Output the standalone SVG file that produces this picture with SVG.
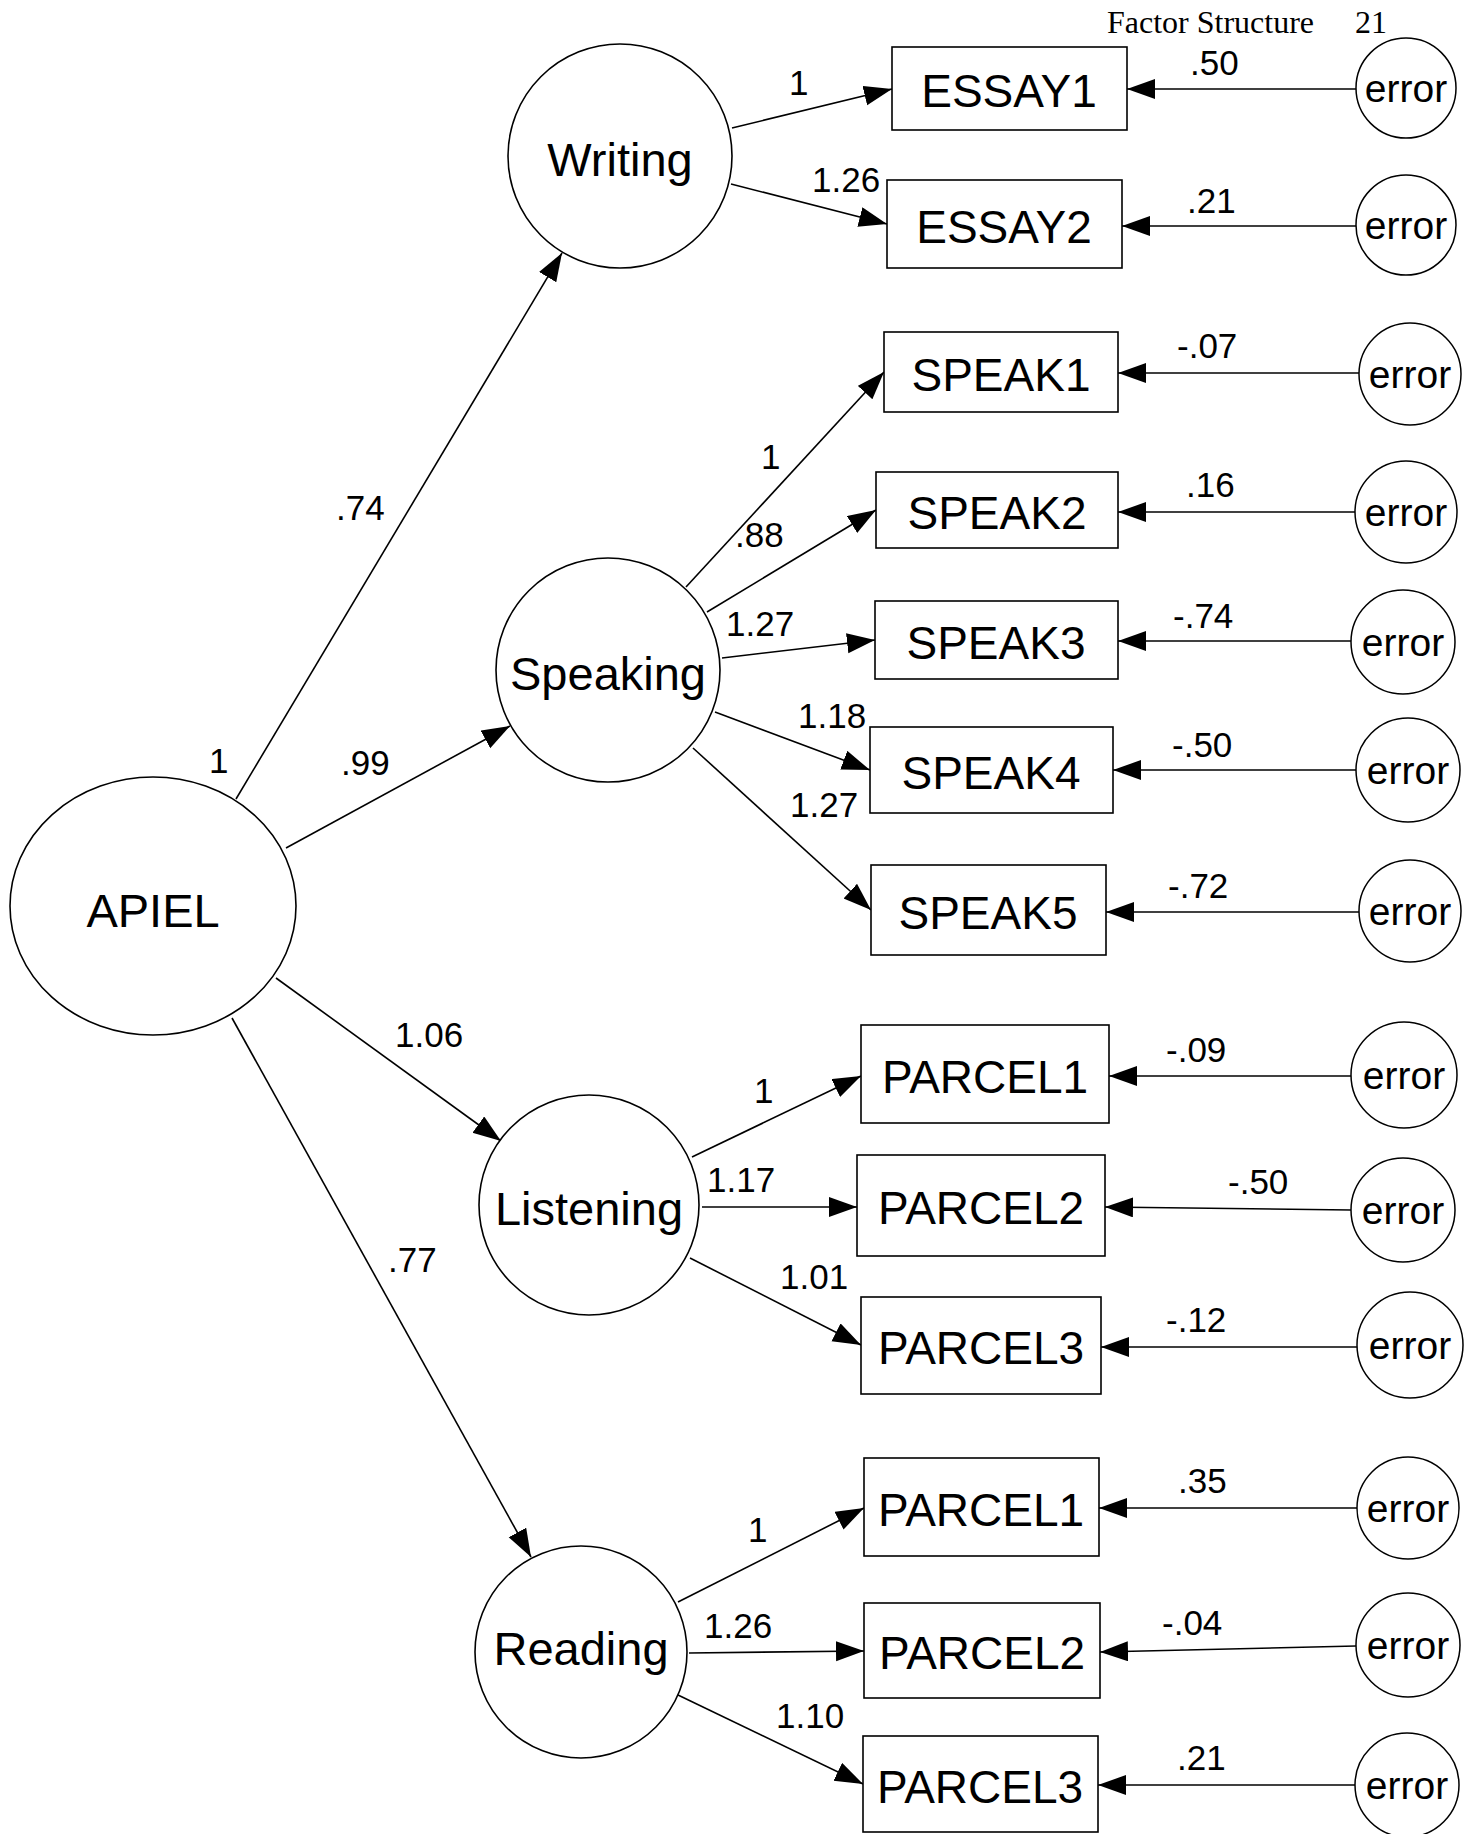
<svg xmlns="http://www.w3.org/2000/svg" width="1472" height="1834" viewBox="0 0 1472 1834">
<style>
.bg{fill:#ffffff}
.lat{fill:#ffffff;stroke:#000;stroke-width:1.6}
.obs{fill:#ffffff;stroke:#000;stroke-width:1.6}
.err{fill:#ffffff;stroke:#000;stroke-width:1.5}
.lbl{font-family:"Liberation Sans",Arial,sans-serif;font-size:47px;fill:#000;text-anchor:middle}
.box{font-family:"Liberation Sans",Arial,sans-serif;font-size:46px;fill:#000;text-anchor:middle}
.etx{font-family:"Liberation Sans",Arial,sans-serif;font-size:39px;fill:#000;text-anchor:middle}
.num{font-family:"Liberation Sans",Arial,sans-serif;font-size:35px;fill:#000}
.title{font-family:"Liberation Serif","Times New Roman",serif;font-size:32px;fill:#000}
.c{fill:none;stroke:#000;stroke-width:1.6;marker-end:url(#ah)}
</style>
<defs>
<marker id="ah" markerUnits="userSpaceOnUse" markerWidth="30" markerHeight="22" refX="28" refY="10" orient="auto">
<path d="M0,0 L28,10 L0,20 Z" fill="#000"/>
</marker>
</defs>
<rect class="bg" x="0" y="0" width="1472" height="1834"/>
<g id="header">
<text class="title" x="1107" y="33">Factor Structure</text>
<text class="title" x="1355" y="33">21</text>
</g>
<g id="connectors">
<line class="c" x1="236" y1="799" x2="562" y2="253"/>
<line class="c" x1="286" y1="848" x2="510" y2="726"/>
<line class="c" x1="276" y1="978" x2="501" y2="1141"/>
<line class="c" x1="232" y1="1018" x2="531" y2="1557"/>
<line class="c" x1="732" y1="128" x2="892" y2="89"/>
<line class="c" x1="731" y1="184" x2="887" y2="224"/>
<line class="c" x1="686" y1="587" x2="884" y2="372"/>
<line class="c" x1="707" y1="612" x2="876" y2="510"/>
<line class="c" x1="722" y1="658" x2="875" y2="640"/>
<line class="c" x1="715" y1="712" x2="870" y2="770"/>
<line class="c" x1="693" y1="748" x2="871" y2="910"/>
<line class="c" x1="692" y1="1157" x2="861" y2="1076"/>
<line class="c" x1="702" y1="1207" x2="857" y2="1207"/>
<line class="c" x1="690" y1="1258" x2="861" y2="1345"/>
<line class="c" x1="678" y1="1602" x2="864" y2="1508"/>
<line class="c" x1="689" y1="1653" x2="864" y2="1651"/>
<line class="c" x1="678" y1="1695" x2="863" y2="1784"/>
<line class="c" x1="1356" y1="89" x2="1127" y2="89"/>
<line class="c" x1="1356" y1="226" x2="1122" y2="226"/>
<line class="c" x1="1359" y1="373" x2="1118" y2="373"/>
<line class="c" x1="1355" y1="512" x2="1118" y2="512"/>
<line class="c" x1="1351" y1="641" x2="1118" y2="641"/>
<line class="c" x1="1356" y1="770" x2="1113" y2="770"/>
<line class="c" x1="1359" y1="912" x2="1106" y2="912"/>
<line class="c" x1="1351" y1="1076" x2="1109" y2="1076"/>
<line class="c" x1="1351" y1="1210" x2="1105" y2="1207"/>
<line class="c" x1="1357" y1="1347" x2="1101" y2="1347"/>
<line class="c" x1="1357" y1="1508" x2="1099" y2="1508"/>
<line class="c" x1="1356" y1="1646" x2="1100" y2="1652"/>
<line class="c" x1="1355" y1="1785" x2="1098" y2="1785"/>
<text class="num" x="336" y="520">.74</text>
<text class="num" x="209" y="773">1</text>
<text class="num" x="341" y="775">.99</text>
<text class="num" x="395" y="1047">1.06</text>
<text class="num" x="388" y="1272">.77</text>
<text class="num" x="789" y="95">1</text>
<text class="num" x="812" y="192">1.26</text>
<text class="num" x="761" y="469">1</text>
<text class="num" x="735" y="547">.88</text>
<text class="num" x="726" y="636">1.27</text>
<text class="num" x="798" y="728">1.18</text>
<text class="num" x="790" y="817">1.27</text>
<text class="num" x="754" y="1103">1</text>
<text class="num" x="707" y="1192">1.17</text>
<text class="num" x="780" y="1289">1.01</text>
<text class="num" x="748" y="1542">1</text>
<text class="num" x="704" y="1638">1.26</text>
<text class="num" x="776" y="1728">1.10</text>
<text class="num" x="1190" y="75">.50</text>
<text class="num" x="1187" y="213">.21</text>
<text class="num" x="1177" y="358">-.07</text>
<text class="num" x="1186" y="497">.16</text>
<text class="num" x="1173" y="628">-.74</text>
<text class="num" x="1172" y="757">-.50</text>
<text class="num" x="1168" y="898">-.72</text>
<text class="num" x="1166" y="1062">-.09</text>
<text class="num" x="1228" y="1194">-.50</text>
<text class="num" x="1166" y="1332">-.12</text>
<text class="num" x="1178" y="1493">.35</text>
<text class="num" x="1162" y="1635">-.04</text>
<text class="num" x="1177" y="1770">.21</text>
</g>
<g id="APIEL"><ellipse class="lat" cx="153" cy="906" rx="143" ry="129"/><text class="lbl" x="153" y="927">APIEL</text></g>
<g id="Writing"><circle class="lat" cx="620" cy="156" r="112"/><text class="lbl" x="620" y="176">Writing</text></g>
<g id="Speaking"><circle class="lat" cx="608" cy="670" r="112"/><text class="lbl" x="608" y="690">Speaking</text></g>
<g id="Listening"><circle class="lat" cx="589" cy="1205" r="110"/><text class="lbl" x="589" y="1225">Listening</text></g>
<g id="Reading"><circle class="lat" cx="581" cy="1652" r="106"/><text class="lbl" x="581" y="1665">Reading</text></g>
<g id="ESSAY1"><rect class="obs" x="892" y="47" width="235" height="83"/><text class="box" x="1009" y="107">ESSAY1</text></g>
<g id="ESSAY2"><rect class="obs" x="887" y="180" width="235" height="88"/><text class="box" x="1004" y="243">ESSAY2</text></g>
<g id="SPEAK1"><rect class="obs" x="884" y="332" width="234" height="80"/><text class="box" x="1001" y="391">SPEAK1</text></g>
<g id="SPEAK2"><rect class="obs" x="876" y="472" width="242" height="76"/><text class="box" x="997" y="529">SPEAK2</text></g>
<g id="SPEAK3"><rect class="obs" x="875" y="601" width="243" height="78"/><text class="box" x="996" y="659">SPEAK3</text></g>
<g id="SPEAK4"><rect class="obs" x="870" y="727" width="243" height="86"/><text class="box" x="991" y="789">SPEAK4</text></g>
<g id="SPEAK5"><rect class="obs" x="871" y="865" width="235" height="90"/><text class="box" x="988" y="929">SPEAK5</text></g>
<g id="L_PARCEL1"><rect class="obs" x="861" y="1025" width="248" height="98"/><text class="box" x="985" y="1093">PARCEL1</text></g>
<g id="L_PARCEL2"><rect class="obs" x="857" y="1155" width="248" height="101"/><text class="box" x="981" y="1224">PARCEL2</text></g>
<g id="L_PARCEL3"><rect class="obs" x="861" y="1297" width="240" height="97"/><text class="box" x="981" y="1364">PARCEL3</text></g>
<g id="R_PARCEL1"><rect class="obs" x="864" y="1458" width="235" height="98"/><text class="box" x="981" y="1526">PARCEL1</text></g>
<g id="R_PARCEL2"><rect class="obs" x="864" y="1603" width="236" height="95"/><text class="box" x="982" y="1669">PARCEL2</text></g>
<g id="R_PARCEL3"><rect class="obs" x="863" y="1736" width="235" height="96"/><text class="box" x="980" y="1803">PARCEL3</text></g>
<g id="err_E1"><circle class="err" cx="1406" cy="88" r="50"/><text class="etx" x="1406" y="102">error</text></g>
<g id="err_E2"><circle class="err" cx="1406" cy="225" r="50"/><text class="etx" x="1406" y="239">error</text></g>
<g id="err_S1"><circle class="err" cx="1410" cy="374" r="51"/><text class="etx" x="1410" y="388">error</text></g>
<g id="err_S2"><circle class="err" cx="1406" cy="512" r="51"/><text class="etx" x="1406" y="526">error</text></g>
<g id="err_S3"><circle class="err" cx="1403" cy="642" r="52"/><text class="etx" x="1403" y="656">error</text></g>
<g id="err_S4"><circle class="err" cx="1408" cy="770" r="52"/><text class="etx" x="1408" y="784">error</text></g>
<g id="err_S5"><circle class="err" cx="1410" cy="911" r="51"/><text class="etx" x="1410" y="925">error</text></g>
<g id="err_L1"><circle class="err" cx="1404" cy="1075" r="53"/><text class="etx" x="1404" y="1089">error</text></g>
<g id="err_L2"><circle class="err" cx="1403" cy="1210" r="52"/><text class="etx" x="1403" y="1224">error</text></g>
<g id="err_L3"><circle class="err" cx="1410" cy="1345" r="53"/><text class="etx" x="1410" y="1359">error</text></g>
<g id="err_R1"><circle class="err" cx="1408" cy="1508" r="51"/><text class="etx" x="1408" y="1522">error</text></g>
<g id="err_R2"><circle class="err" cx="1408" cy="1645" r="52"/><text class="etx" x="1408" y="1659">error</text></g>
<g id="err_R3"><circle class="err" cx="1407" cy="1785" r="52"/><text class="etx" x="1407" y="1799">error</text></g>
</svg>
